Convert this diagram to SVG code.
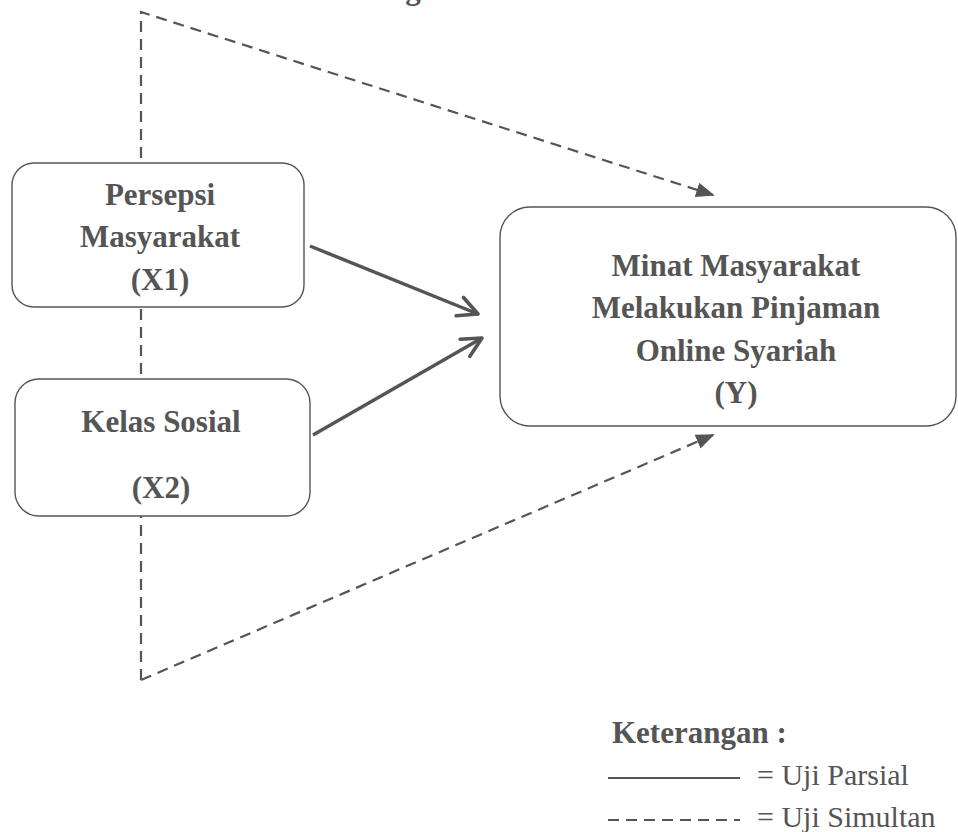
<svg xmlns="http://www.w3.org/2000/svg" width="958" height="832" viewBox="0 0 958 832">
<style>
.box{fill:#ffffff;stroke:#555555;stroke-width:1.4}
.t{font-family:"Liberation Serif","Times New Roman",serif;font-weight:bold;font-size:31px;fill:#555555;text-anchor:middle}
.r{font-family:"Liberation Serif","Times New Roman",serif;font-size:30px;fill:#555555}
.solid{fill:none;stroke:#555555;stroke-width:3.5}
.dash{fill:none;stroke:#555555;stroke-width:2.2;stroke-dasharray:11 7}
</style>
<defs>
<marker id="open" viewBox="0 0 20 20" refX="18" refY="10" markerWidth="7" markerHeight="7" orient="auto" markerUnits="strokeWidth">
<path d="M2,2 L18,10 L2,18" fill="none" stroke="#555555" stroke-width="3" stroke-linecap="round" stroke-linejoin="round"/>
</marker>
<marker id="fill" viewBox="0 0 20 20" refX="18" refY="10" markerWidth="8.5" markerHeight="8.5" orient="auto" markerUnits="strokeWidth">
<path d="M0,2 L20,10 L0,18 Z" fill="#555555"/>
</marker>
</defs>
<rect width="958" height="832" fill="#ffffff"/>
<text class="t" x="321" y="-1.5" style="text-anchor:start">Kerangka Pemikiran</text>
<g id="connectors">
<path class="dash" d="M141,680 L141,12 L713,195" marker-end="url(#fill)"/>
<path class="dash" d="M141,680 L713,435" marker-end="url(#fill)"/>
<line class="solid" x1="310" y1="246" x2="478" y2="314" marker-end="url(#open)"/>
<line class="solid" x1="313" y1="435" x2="482" y2="338" marker-end="url(#open)"/>
</g>
<g id="x1">
<rect class="box" x="12" y="163" width="292" height="144" rx="22"/>
<text class="t" x="160" y="205">Persepsi</text>
<text class="t" x="160" y="247">Masyarakat</text>
<text class="t" x="160" y="290">(X1)</text>
</g>
<g id="x2">
<rect class="box" x="15" y="379" width="295" height="137" rx="24"/>
<text class="t" x="161" y="432">Kelas Sosial</text>
<text class="t" x="161" y="498">(X2)</text>
</g>
<g id="y">
<rect class="box" x="500" y="207" width="456" height="219" rx="30"/>
<text class="t" x="736" y="276">Minat Masyarakat</text>
<text class="t" x="736" y="318">Melakukan Pinjaman</text>
<text class="t" x="736" y="361">Online Syariah</text>
<text class="t" x="736" y="403">(Y)</text>
</g>
<g id="legend">
<text class="t" x="612" y="743" style="text-anchor:start">Keterangan :</text>
<line x1="608" y1="778" x2="740" y2="778" stroke="#555555" stroke-width="2"/>
<text class="r" x="757" y="785">= Uji Parsial</text>
<line x1="608" y1="820" x2="740" y2="820" stroke="#555555" stroke-width="2" stroke-dasharray="11 7"/>
<text class="r" x="757" y="827">= Uji Simultan</text>
</g>
</svg>
